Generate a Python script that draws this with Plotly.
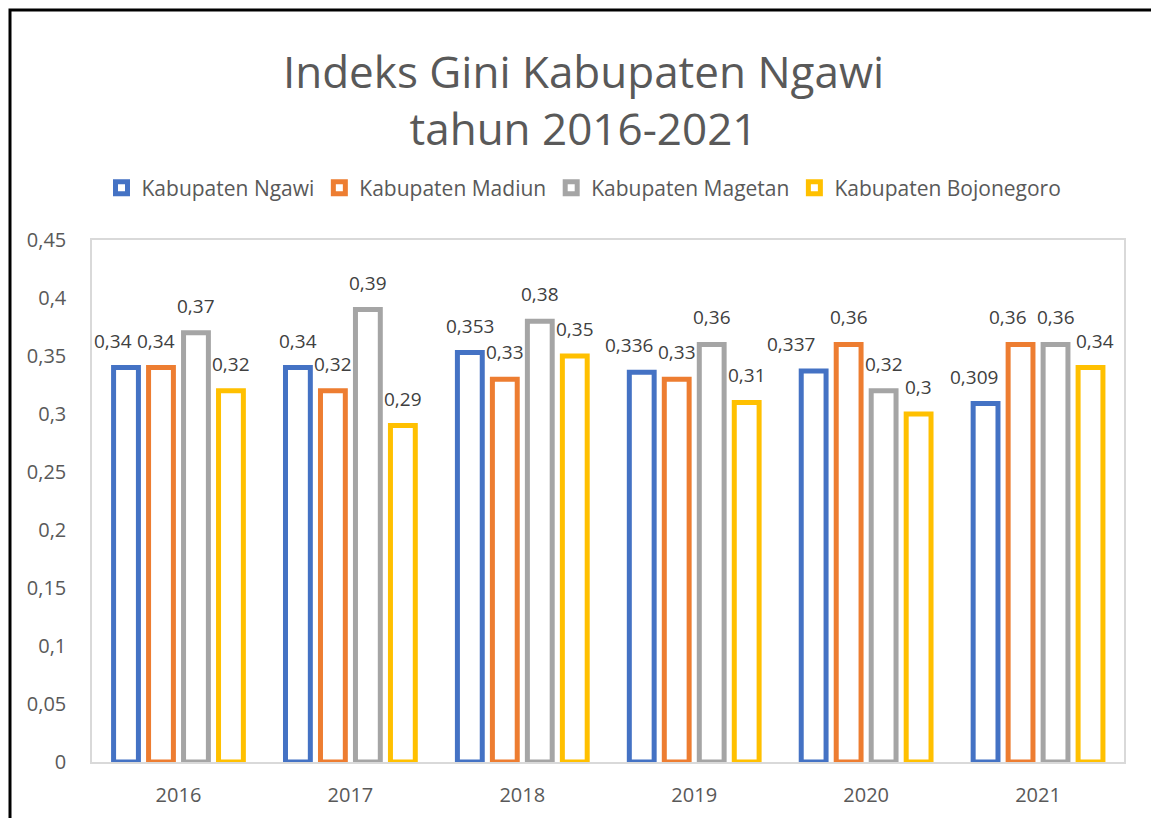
import plotly.graph_objects as go

# data
tahun = ["2016", "2017", "2018", "2019", "2020", "2021"]
ngawi = [0.34, 0.34, 0.353, 0.336, 0.337, 0.309]
madiun = [0.34, 0.32, 0.33, 0.33, 0.36, 0.36]
magetan = [0.37, 0.39, 0.38, 0.36, 0.32, 0.36]
bojonegoro = [0.32, 0.29, 0.35, 0.31, 0.3, 0.34]

series = [
    ("Kabupaten Ngawi", ngawi, "#4472C4"),
    ("Kabupaten Madiun", madiun, "#ED7D31"),
    ("Kabupaten Magetan", magetan, "#A5A5A5"),
    ("Kabupaten Bojonegoro", bojonegoro, "#FFC000"),
]

# geseran horizontal label (px) agar label yang berdempetan tidak bertumpuk
geser_label = {
    ("Kabupaten Ngawi", "2016"): -13,
    ("Kabupaten Madiun", "2016"): -5,
    ("Kabupaten Ngawi", "2019"): -13,
    ("Kabupaten Ngawi", "2020"): -23,
    ("Kabupaten Ngawi", "2021"): -12,
    ("Kabupaten Madiun", "2021"): -13,
    ("Kabupaten Bojonegoro", "2021"): 4,
}

FONT = "Open Sans"
W, H = 1151, 810          # halaman html memberi margin 8px
ML, MR, MT, MB = 84, 35, 232, 56
PW, PH = W - ML - MR, H - MT - MB
BARGAP = 0.186

fig = go.Figure()
for nama, nilai, warna in series:
    fig.add_trace(go.Bar(
        x=tahun,
        y=nilai,
        name=nama,
        marker=dict(color="white", line=dict(color=warna, width=5)),
        cliponaxis=False,
    ))

# label data di atas batang
n = len(series)
slot = (1 - BARGAP) / n
for i, (nama, nilai, warna) in enumerate(series):
    for j, v in enumerate(nilai):
        fig.add_annotation(
            x=j + (i - (n - 1) / 2) * slot,
            y=v,
            text=str(v).replace(".", ","),
            showarrow=False,
            yanchor="middle",
            yshift=27,
            xshift=geser_label.get((nama, tahun[j]), 0),
            font=dict(family=FONT, size=19, color="#404040"),
        )

fig.update_layout(
    width=W,
    height=H,
    paper_bgcolor="white",
    plot_bgcolor="white",
    separators=",.",
    font=dict(family=FONT, color="#595959"),
    title=dict(
        text="Indeks Gini Kabupaten Ngawi<br>tahun 2016-2021",
        x=0.5, xanchor="center",
        y=1 - 80 / H, yanchor="middle",
        yref="container",
        font=dict(family=FONT, size=44, color="#595959"),
    ),
    legend=dict(
        orientation="h",
        x=(576 - ML) / PW, xanchor="center",
        y=1 - 180 / H, yanchor="middle",
        yref="container",
        font=dict(family=FONT, size=21, color="#595959"),
        itemwidth=30,
        traceorder="normal",
    ),
    barmode="group",
    bargap=BARGAP,
    bargroupgap=0.29,
    margin=dict(l=ML, r=MR, t=MT, b=MB),
)

fig.update_yaxes(
    range=[0, 0.45],
    dtick=0.05,
    showgrid=False,
    zeroline=False,
    showline=True,
    mirror=True,
    linecolor="#D9D9D9",
    linewidth=1.5,
    tickfont=dict(family=FONT, size=20, color="#595959"),
    ticks="",
    ticklabelstandoff=20,
    automargin=False,
)
fig.update_xaxes(
    showgrid=False,
    showline=True,
    mirror=True,
    linecolor="#D9D9D9",
    linewidth=1.5,
    tickfont=dict(family=FONT, size=20, color="#595959"),
    ticklabelstandoff=14,
    automargin=False,
)

# bingkai luar grafik
fig.add_shape(
    type="rect", xref="paper", yref="paper",
    x0=(2 - ML) / PW, x1=(1147 - ML) / PW,
    y0=(PH + 80) / -PH, y1=(PH + MT - 2) / PH,
    line=dict(color="black", width=3),
    fillcolor="rgba(0,0,0,0)",
    layer="above",
)

fig.write_html("out.html")
